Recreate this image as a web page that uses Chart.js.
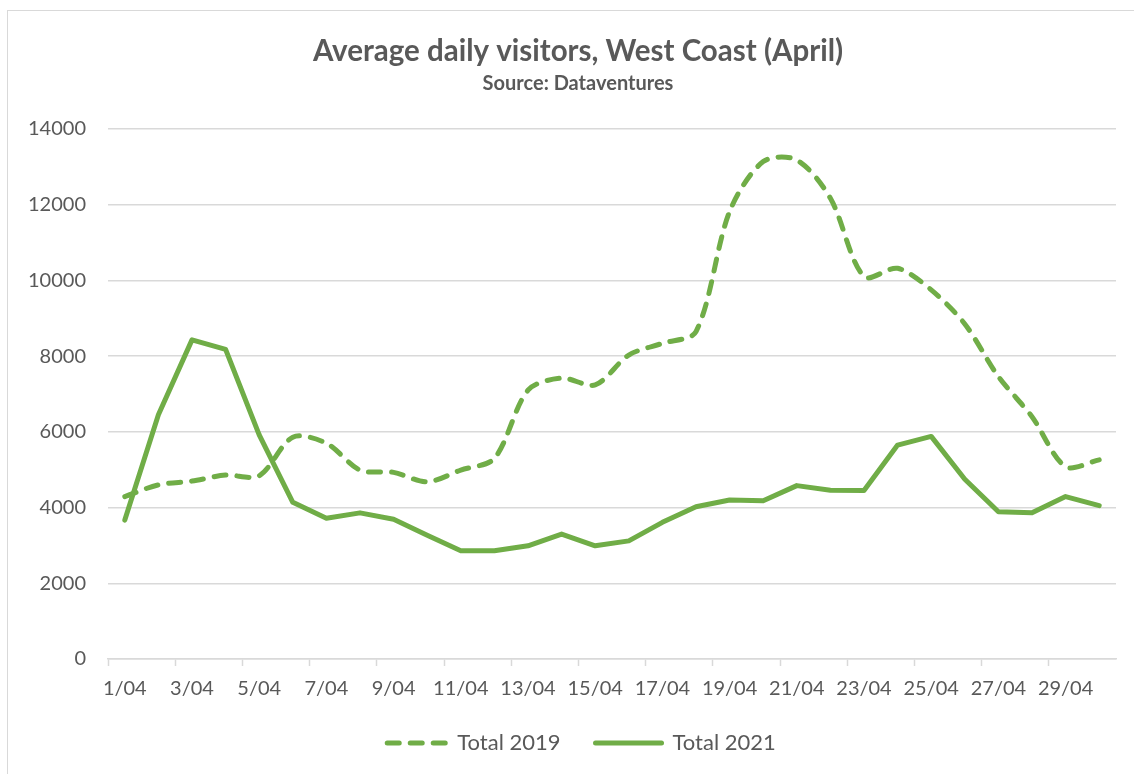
<!DOCTYPE html>
<html>
<head>
<meta charset="utf-8">
<script src="https://cdn.jsdelivr.net/npm/chart.js@4"></script>
<style>
    body { margin: 0; background: #fff; }
    #wrap { position: relative; width: 1134px; height: 774px; overflow: hidden; }
    #frame { position: absolute; left: 7px; top: 10px; width: 1200px; height: 800px; border: 1px solid #d9d9d9; pointer-events: none; }
</style>
</head>
<body>
<div id="wrap">
    <canvas id="visitorsChart" width="1134" height="774"></canvas>
    <div id="frame"></div>
</div>
<script>
// ---------------- Data ----------------
const days = ['1/04', '2/04', '3/04', '4/04', '5/04', '6/04', '7/04', '8/04', '9/04', '10/04',
    '11/04', '12/04', '13/04', '14/04', '15/04', '16/04', '17/04', '18/04', '19/04', '20/04',
    '21/04', '22/04', '23/04', '24/04', '25/04', '26/04', '27/04', '28/04', '29/04', '30/04'];

const total2019 = [4290, 4600, 4700, 4860, 4840, 5860, 5700, 4990, 4930, 4680,
    4990, 5300, 7100, 7420, 7240, 8030, 8340, 8650, 11820, 13140,
    13180, 12170, 10100, 10320, 9750, 8850, 7460, 6400, 5080, 5260];

const total2021 = [3670, 6450, 8430, 8180, 5920, 4140, 3720, 3860, 3690, 3270,
    2860, 2860, 2990, 3300, 2990, 3120, 3610, 4020, 4200, 4180,
    4580, 4460, 4450, 5650, 5880, 4750, 3890, 3860, 4290, 4050];

const yTicks = [0, 2000, 4000, 6000, 8000, 10000, 12000, 14000];

// ---------------- Styles ----------------
const green = '#70ad47';
const textGray = '#595959';
const gridGray = '#d9d9d9';
const baseFont = 'Lato, "Open Sans", sans-serif';

// legend keeps the dashed look of each dataset
function buildLegendLabels(chart) {
    const items = Chart.defaults.plugins.legend.labels.generateLabels(chart);
    items.forEach(item => {
        const ds = chart.data.datasets[item.datasetIndex];
        item.lineDash = ds.borderDash || [];
        item.lineDashOffset = ds.borderDash ? -7 : 0;
        item.lineCap = 'round';
        item.lineWidth = ds.borderWidth;
        item.strokeStyle = ds.borderColor;
        item.fontColor = textGray;
    });
    return items;
}

// ---------------- Chart ----------------
const ctx = document.getElementById('visitorsChart').getContext('2d');

new Chart(ctx, {
    type: 'line',
    data: {
        labels: days,
        datasets: [
            {
                label: 'Total 2019',
                data: total2019,
                borderColor: green,
                backgroundColor: green,
                borderWidth: 5,
                borderDash: [12, 11],
                borderCapStyle: 'round',
                borderJoinStyle: 'round',
                pointRadius: 0,
                tension: 0.3
            },
            {
                label: 'Total 2021',
                data: total2021,
                borderColor: green,
                backgroundColor: green,
                borderWidth: 5,
                borderCapStyle: 'round',
                borderJoinStyle: 'round',
                pointRadius: 0,
                tension: 0
            }
        ]
    },
    options: {
        responsive: false,
        animation: false,
        layout: { padding: { top: 10, left: 22, right: 0, bottom: 10 } },
        scales: {
            x: {
                offset: true,
                afterFit: (scale) => { scale.height = 38; },
                grid: {
                    offset: true,
                    drawOnChartArea: false,
                    drawTicks: true,
                    tickLength: 7,
                    tickWidth: 1.5,
                    tickColor: (c) => c.index % 2 === 0 ? gridGray : 'rgba(0,0,0,0)'
                },
                border: { display: true, color: gridGray, width: 1.5 },
                ticks: {
                    autoSkip: false,
                    maxRotation: 0,
                    padding: 11,
                    color: textGray,
                    font: { family: baseFont, size: 20 },
                    callback: function(value, index) {
                        return index % 2 === 0 ? this.getLabelForValue(value) : '';
                    }
                }
            },
            y: {
                min: 0,
                max: 14000,
                afterFit: (scale) => { scale.width = 86; },
                afterBuildTicks: (scale) => { scale.ticks = yTicks.map(v => ({ value: v })); },
                grid: { color: gridGray, lineWidth: 1.5, drawTicks: false },
                border: { display: false },
                ticks: {
                    padding: 22,
                    color: textGray,
                    font: { family: baseFont, size: 20 },
                    callback: (value) => String(value)
                }
            },
            // empty right margin so the title and legend sit centred like the original
            yRight: {
                position: 'right',
                afterFit: (scale) => { scale.width = 18; },
                grid: { display: false },
                border: { display: false },
                ticks: { display: false }
            }
        },
        plugins: {
            title: {
                display: true,
                text: 'Average daily visitors, West Coast (April)',
                color: textGray,
                font: { family: baseFont, size: 29.5, weight: 'bold' },
                padding: { top: 24, bottom: 0 }
            },
            subtitle: {
                display: true,
                text: 'Source: Dataventures',
                color: textGray,
                font: { family: baseFont, size: 20, weight: 'bold' },
                padding: { top: 2, bottom: 33.6 }
            },
            legend: {
                position: 'bottom',
                labels: {
                    usePointStyle: true,
                    pointStyle: 'line',
                    pointStyleWidth: 66,
                    padding: 35,
                    color: textGray,
                    font: { family: baseFont, size: 22 },
                    generateLabels: buildLegendLabels
                }
            },
            tooltip: { enabled: false }
        }
    }
});
</script>
</body>
</html>
